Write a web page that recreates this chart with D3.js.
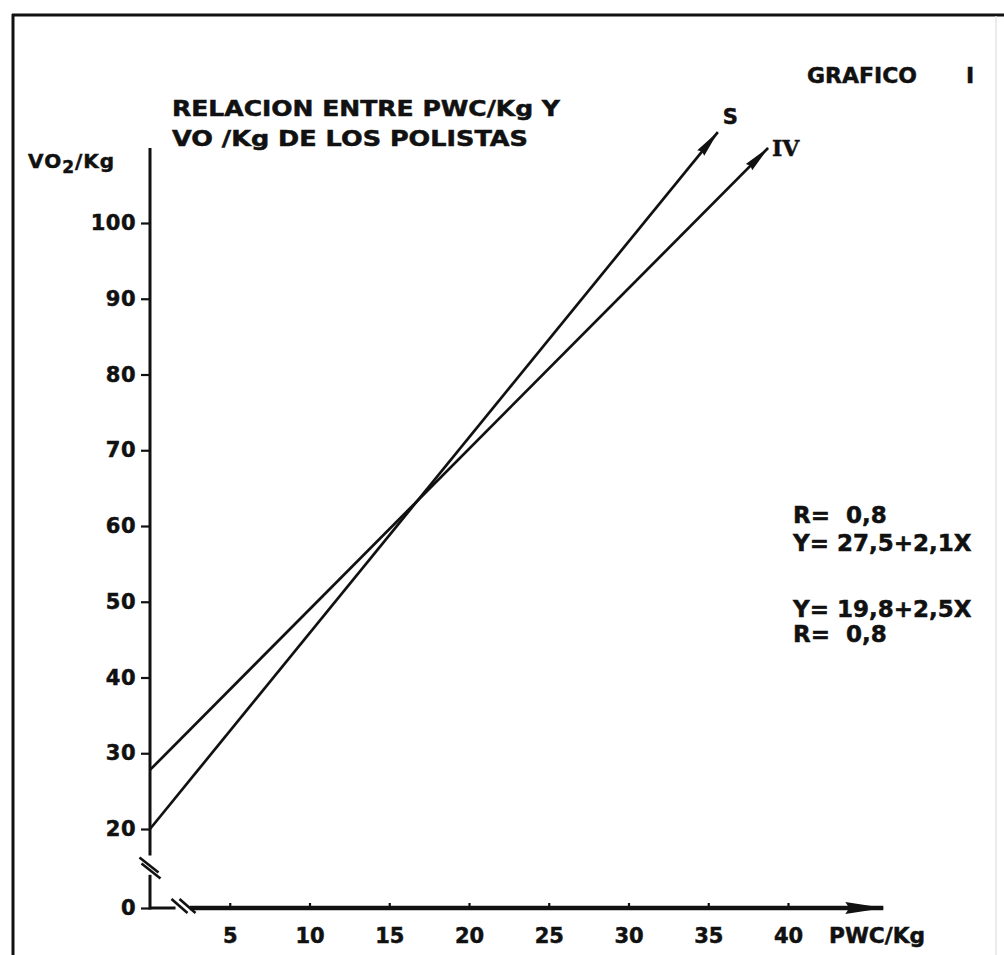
<!DOCTYPE html>
<html>
<head>
<meta charset="utf-8">
<script src="https://cdn.jsdelivr.net/npm/d3@7"></script>
<style>
  body { margin: 0; background: #fff; }
  text { font-family: "DejaVu Sans", sans-serif; font-weight: bold; fill: #111; stroke: #111; stroke-width: 0.5px; }
</style>
</head>
<body>
<svg id="grafico"></svg>
<script>
// Config
const width = 1004;
const height = 955;

// Datos
const yTicks = [0, 20, 30, 40, 50, 60, 70, 80, 90, 100];
const xTicks = [5, 10, 15, 20, 25, 30, 35, 40];
// rectas dibujadas (inicio en el eje y punta de la flecha)
const lineS = [{ x: 0, y: 20 }, { x: 35.6, y: 112 }];
const lineIV = [{ x: 0, y: 27.8 }, { x: 38.75, y: 109.9 }];
const titleLines = ["RELACION ENTRE PWC/Kg Y", "VO /Kg DE LOS POLISTAS"];
const legendTop = ["R=  0,8", "Y= 27,5+2,1X"];
const legendBottom = ["Y= 19,8+2,5X", "R=  0,8"];

// anchos del rotulado (letras anchas tipo plantilla)
const titleWidths = [388, 356];

const svg = d3.select("#grafico")
  .attr("width", width)
  .attr("height", height);

svg.append("rect").attr("width", width).attr("height", height).attr("fill", "#fff");

// Marco de la hoja
svg.append("line").attr("x1", 12).attr("y1", 15).attr("x2", width).attr("y2", 15)
  .attr("stroke", "#111").attr("stroke-width", 3);
svg.append("line").attr("x1", 13).attr("y1", 14).attr("x2", 13).attr("y2", height)
  .attr("stroke", "#111").attr("stroke-width", 3);
svg.append("line").attr("x1", 996).attr("y1", 16).attr("x2", 996).attr("y2", height)
  .attr("stroke", "#e4e4e4").attr("stroke-width", 1.5);

// Escalas (eje y cortado entre 0 y 20)
const x = d3.scaleLinear().domain([0, 40]).range([150, 788]);
const y = d3.scaleLinear().domain([0, 20, 100]).range([908, 829, 223]);

const xEnd = 46.1;  // punta de la flecha del eje x
const yTop = 109.9; // extremo superior del eje y

// Flechas
const defs = svg.append("defs");
defs.append("marker")
  .attr("id", "punta")
  .attr("markerUnits", "userSpaceOnUse")
  .attr("viewBox", "-30 -6 32 12")
  .attr("markerWidth", 32).attr("markerHeight", 12)
  .attr("refX", 0).attr("refY", 0)
  .attr("orient", "auto")
  .append("path")
  .attr("d", "M1,0 L-27,-4.5 L-25,0 L-27,4.5 Z")
  .attr("fill", "#111");

defs.append("marker")
  .attr("id", "puntaEje")
  .attr("markerUnits", "userSpaceOnUse")
  .attr("viewBox", "-42 -7 44 14")
  .attr("markerWidth", 44).attr("markerHeight", 14)
  .attr("refX", 0).attr("refY", 0)
  .attr("orient", "auto")
  .append("path")
  .attr("d", "M1,0 L-38,-6 L-34,0 L-38,6 Z")
  .attr("fill", "#111");

// Eje Y
const yAxis = svg.append("g")
  .attr("transform", `translate(${x(0)},0)`)
  .call(d3.axisLeft(y).tickValues(yTicks).tickSize(9).tickPadding(5).tickFormat(d3.format("d")));
yAxis.select(".domain").remove();
yAxis.selectAll(".tick line").attr("stroke", "#111").attr("stroke-width", 2.2);
yAxis.selectAll(".tick text")
  .style("font-size", "21px")
  .style("font-family", "'DejaVu Sans', sans-serif")
  .style("font-weight", "bold")
  .style("letter-spacing", "0.5px")
  .attr("fill", "#111");

// linea del eje y con corte
svg.append("line")
  .attr("x1", x(0)).attr("x2", x(0))
  .attr("y1", y(yTop)).attr("y2", y(13.3))
  .attr("stroke", "#111").attr("stroke-width", 3);
svg.append("line")
  .attr("x1", x(0)).attr("x2", x(0))
  .attr("y1", y(8.4)).attr("y2", y(0) + 1.5)
  .attr("stroke", "#111").attr("stroke-width", 3);

// Eje X
const xAxis = svg.append("g")
  .attr("transform", `translate(0,${y(0)})`)
  .call(d3.axisBottom(x).tickValues(xTicks).tickSize(-5).tickPadding(20));
xAxis.select(".domain").remove();
xAxis.selectAll(".tick line").attr("stroke", "#111").attr("stroke-width", 2.2);
xAxis.selectAll(".tick text")
  .style("font-size", "21px")
  .style("font-family", "'DejaVu Sans', sans-serif")
  .style("font-weight", "bold")
  .attr("fill", "#111");

svg.append("line")
  .attr("x1", x(0)).attr("x2", x(1.6))
  .attr("y1", y(0)).attr("y2", y(0))
  .attr("stroke", "#111").attr("stroke-width", 3);
svg.append("line")
  .attr("x1", x(2.5)).attr("x2", x(xEnd) - 2)
  .attr("y1", y(0)).attr("y2", y(0))
  .attr("stroke", "#111").attr("stroke-width", 4.5)
  .attr("marker-end", "url(#puntaEje)");

// Marcas de corte //
function corte(cx, cy, dx, dy, ox, oy) {
  [0, 1].forEach(i => {
    svg.append("line")
      .attr("x1", cx - dx / 2 + i * ox).attr("y1", cy - dy / 2 + i * oy)
      .attr("x2", cx + dx / 2 + i * ox).attr("y2", cy + dy / 2 + i * oy)
      .attr("stroke", "#111").attr("stroke-width", 2.6);
  });
}
corte(x(0) - 1, y(10.9), 19, 15, 2, 6);
corte(x(2.1) - 4, y(0) - 2, 16, 14, 8, 0);

// Rectas de regresion
const linea = d3.line().x(d => x(d.x)).y(d => y(d.y));

[lineS, lineIV].forEach(serie => {
  svg.append("path")
    .datum(serie)
    .attr("d", linea)
    .attr("fill", "none")
    .attr("stroke", "#111")
    .attr("stroke-width", 2.7)
    .attr("marker-end", "url(#punta)");
});

// Etiquetas de las rectas
const tipS = lineS[lineS.length - 1];
const tipIV = lineIV[lineIV.length - 1];
svg.append("text")
  .attr("x", x(tipS.x) + 5).attr("y", y(tipS.y) - 8)
  .style("font-size", "21px")
  .text("S");
svg.append("text")
  .attr("x", x(tipIV.x) + 4).attr("y", y(tipIV.y) + 8)
  .style("font-family", "'DejaVu Serif', serif")
  .style("font-size", "22px")
  .style("font-weight", "bold")
  .text("IV");

// Titulos
svg.append("text")
  .attr("x", 807).attr("y", 83)
  .style("font-size", "22px")
  .attr("textLength", 110)
  .attr("lengthAdjust", "spacingAndGlyphs")
  .text("GRAFICO");
svg.append("text")
  .attr("x", 966).attr("y", 83)
  .style("font-size", "22px")
  .text("I");

svg.selectAll(".titulo")
  .data(titleLines)
  .join("text")
  .attr("class", "titulo")
  .attr("x", 172)
  .attr("y", (d, i) => 116 + i * 30)
  .style("font-size", "21px")
  .attr("textLength", (d, i) => titleWidths[i])
  .attr("lengthAdjust", "spacingAndGlyphs")
  .text(d => d);

// Nombre del eje y
const yLabel = svg.append("text")
  .attr("x", 28).attr("y", 168)
  .style("font-size", "20px")
  .style("letter-spacing", "1px");
yLabel.append("tspan").text("VO");
yLabel.append("tspan").attr("dy", 5).style("font-size", "17px").text("2");
yLabel.append("tspan").attr("dy", -5).text("/Kg");

// Nombre del eje x
svg.append("text")
  .attr("x", 829).attr("y", 943)
  .style("font-size", "21px")
  .attr("textLength", 96)
  .attr("lengthAdjust", "spacingAndGlyphs")
  .text("PWC/Kg");

// Ecuaciones
svg.selectAll(".ecTop")
  .data(legendTop)
  .join("text")
  .attr("class", "ecTop")
  .attr("x", 793)
  .attr("y", (d, i) => 523 + i * 28)
  .style("white-space", "pre")
  .style("font-size", "23px")
  .text(d => d);

svg.selectAll(".ecBottom")
  .data(legendBottom)
  .join("text")
  .attr("class", "ecBottom")
  .attr("x", 793)
  .attr("y", (d, i) => 617 + i * 25)
  .style("white-space", "pre")
  .style("font-size", "23px")
  .text(d => d);
</script>
</body>
</html>
